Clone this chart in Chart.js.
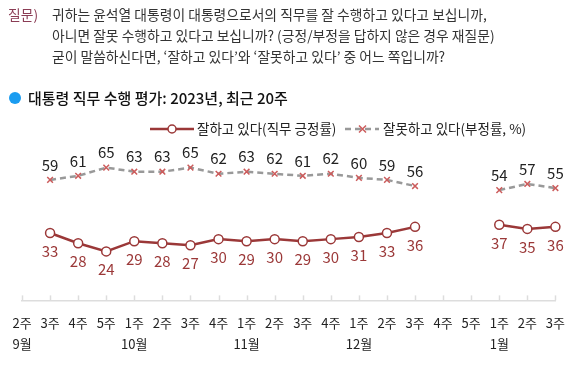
<!DOCTYPE html>
<html>
<head>
<meta charset="utf-8">
<script src="https://cdn.jsdelivr.net/npm/chart.js@4/dist/chart.umd.min.js"></script>
<style>
  body { margin: 0; background: #fff; font-family: "Noto Sans CJK KR", "Noto Sans", sans-serif; }
  #wrap { position: relative; width: 577px; height: 366px; overflow: hidden; }
  #chart { position: absolute; left: 0; top: 0; }
  .q { position: absolute; font-size: 13.8px; color: #333; line-height: 21px; white-space: nowrap; }
  .title { position: absolute; left: 28px; top: 87px; font-size: 15px; font-weight: 500; color: #111; white-space: nowrap; }
  .dot { position: absolute; left: 9px; top: 92px; width: 12px; height: 12px; border-radius: 50%; background: #1a9cf0; }
  .leg { position: absolute; top: 118px; font-size: 13.5px; color: #222; white-space: nowrap; }
  .leg svg { position: absolute; top: 4px; }
</style>
</head>
<body>
<div id="wrap">
  <canvas id="chart" width="577" height="366"></canvas>
  <div class="q" style="left:8px; top:4px; color:#8b3d55;">질문)</div>
  <div class="q" style="left:52px; top:4px;">귀하는 윤석열 대통령이 대통령으로서의 직무를 잘 수행하고 있다고 보십니까,<br>아니면 잘못 수행하고 있다고 보십니까? (긍정/부정을 답하지 않은 경우 재질문)<br>굳이 말씀하신다면, ‘잘하고 있다’와 ‘잘못하고 있다’ 중 어느 쪽입니까?</div>
  <div class="dot"></div>
  <div class="title">대통령 직무 수행 평가: 2023년, 최근 20주</div>
  <div class="leg" style="left:150px;">
    <svg width="44" height="14" style="left:0;"><line x1="0" y1="7" x2="44" y2="7" stroke="#9b3838" stroke-width="2.5"/><circle cx="22" cy="7" r="4" fill="#fff" stroke="#9b3838" stroke-width="1.5"/></svg>
    <span style="position:absolute; left:47px; top:0;">잘하고 있다(직무 긍정률)</span>
  </div>
  <div class="leg" style="left:345px;">
    <svg width="34" height="14" style="left:0;"><line x1="0" y1="7" x2="34" y2="7" stroke="#999" stroke-width="2.5" stroke-dasharray="6,4"/><path d="M14 3.5 L21 10.5 M21 3.5 L14 10.5" stroke="#cc5c5c" stroke-width="1.5"/></svg>
    <span style="position:absolute; left:38px; top:0;">잘못하고 있다(부정률, %)</span>
  </div>
</div>
<script>
// x축: 주차 / 월
const weeks = ["2주","3주","4주","5주","1주","2주","3주","4주","1주","2주","3주","4주","1주","2주","3주","4주","5주","1주","2주","3주"];
const months = ["9월","","","","10월","","","","11월","","","","12월","","","","","1월","",""];

// 긍정률 / 부정률 (조사 없는 주는 null)
const approve = [null,33,28,24,29,28,27,30,29,30,29,30,31,33,36,null,null,37,35,36];
const disapprove = [null,59,61,65,63,63,65,62,63,62,61,62,60,59,56,null,null,54,57,55];

const labels = weeks.map((w, i) => [w, months[i]]);

// 점 위/아래 숫자 표시
const valueLabels = {
  id: "valueLabels",
  afterDatasetsDraw(chart) {
    const ctx = chart.ctx;
    ctx.save();
    ctx.font = "15px 'Noto Sans CJK KR', sans-serif";
    ctx.textAlign = "center";
    ctx.textBaseline = "middle";
    chart.data.datasets.forEach((ds, di) => {
      const meta = chart.getDatasetMeta(di);
      meta.data.forEach((pt, i) => {
        if (ds.data[i] == null) return;
        ctx.fillStyle = di === 0 ? "#9b3838" : "#222";
        const dy = di === 0 ? 18 : -15;
        ctx.fillText(ds.data[i], pt.x, pt.y + dy);
      });
    });
    ctx.restore();
  }
};

// x축 위쪽으로 짧은 눈금
const upTicks = {
  id: "upTicks",
  afterDraw(chart) {
    const x = chart.scales.x;
    const ctx = chart.ctx;
    ctx.save();
    ctx.strokeStyle = "#ddd";
    ctx.lineWidth = 1.5;
    x.ticks.forEach((t, i) => {
      const px = Math.round(x.getPixelForTick(i)) + 0.5;
      ctx.beginPath();
      ctx.moveTo(px, x.top);
      ctx.lineTo(px, x.top - 5);
      ctx.stroke();
    });
    ctx.restore();
  }
};

new Chart(document.getElementById("chart"), {
  type: "line",
  data: {
    labels: labels,
    datasets: [
      {
        label: "잘하고 있다(직무 긍정률)",
        data: approve,
        borderColor: "#9b3838",
        borderWidth: 2.5,
        pointStyle: "circle",
        pointRadius: 4.5,
        pointBackgroundColor: "#fff",
        pointBorderColor: "#9b3838",
        pointBorderWidth: 1.5,
        spanGaps: false,
        tension: 0
      },
      {
        label: "잘못하고 있다(부정률, %)",
        data: disapprove,
        borderColor: "#999",
        borderWidth: 2.5,
        borderDash: [6, 4],
        pointStyle: "crossRot",
        pointRadius: 4,
        pointBorderColor: "#cc5c5c",
        pointBorderWidth: 1.5,
        spanGaps: false,
        tension: 0
      }
    ]
  },
  options: {
    responsive: false,
    animation: false,
    layout: { padding: { top: 137, left: 22, right: 20, bottom: 0 } },
    plugins: { legend: { display: false }, tooltip: { enabled: false } },
    scales: {
      x: {
        offset: false,
        grid: { display: false, drawTicks: false },
        border: { display: true, color: "#ddd", width: 1.5 },
        ticks: {
          autoSkip: false,
          maxRotation: 0,
          padding: 12,
          color: "#222",
          font: { family: "'Noto Sans CJK KR', sans-serif", size: 13, lineHeight: 1.6 }
        }
      },
      y: { display: false, min: 0, max: 80 }
    }
  },
  plugins: [valueLabels, upTicks]
});
</script>
</body>
</html>
